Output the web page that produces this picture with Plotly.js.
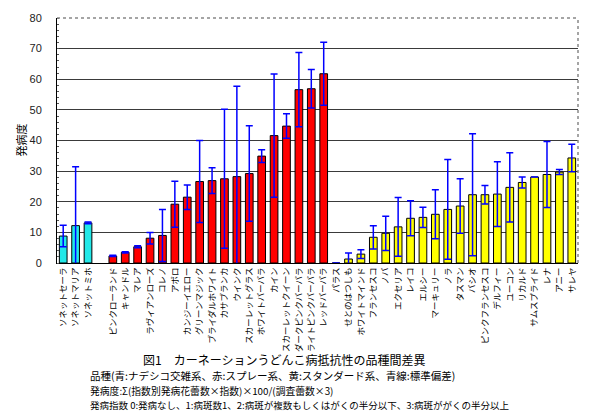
<!DOCTYPE html>
<html>
<head>
<meta charset="utf-8">
<script src="https://cdn.plot.ly/plotly-3.0.1.min.js"></script>
<style>html,body{margin:0;padding:0;background:#fff}#chart{width:600px;height:420px}</style>
</head>
<body>
<div id="chart"></div>
<script>
// ナデシコ交雑系 (cyan)
const nadeshikoNames = ['ソネットセーラ', 'ソネットマリア', 'ソネットミホ'];
const nadeshikoVals  = [8.8, 12.2, 13.1];
const nadeshikoErr   = [3.5, 19.2, 0.3];

// 空き枠
const gapName = [' '];

// スプレー系 (red)
const sprayNames = ['ピンクローランド', 'キャンドル', 'マレア', 'ラヴィアンローズ', 'コレノ', 'アポロ',
  'カンジーイエロー', 'グリーンマジック', 'ブライダルホワイト', 'カサブランカ', 'ウインク',
  'スカーレットグラス', 'ホワイトバーバラ', 'カイン', 'スカーレットクイーン', 'ダークピンクバーバラ',
  'ライトピンクバーバラ', 'レッドバーバラ'];
const sprayVals = [2.3, 3.5, 5.3, 8.1, 9.0, 19.2, 21.5, 26.6, 26.9, 27.5, 28.2, 29.2, 34.9, 41.6, 44.7, 56.6, 56.9, 61.8];
const sprayErr  = [0.2, 0.2, 0.3, 1.9, 8.5, 7.5, 4.0, 13.4, 4.2, 22.7, 29.5, 15.6, 2.1, 20.1, 4.0, 12.1, 6.3, 10.3];

// スタンダード系 (yellow)
const standardNames = ['パラス', 'せとのはつしも', 'ホワイトマインド', 'フランセスコ', 'ノバ', 'エクセリア',
  'レイコ', 'エルシー', 'マーキュリー', 'ノラ', 'タスマン', 'バシオ', 'ピンクフランセスコ', 'デルフィー',
  'ユーコン', 'リカルド', 'サムスプライド', 'レナ', 'アニー', 'サレヤ'];
const standardVals = [0, 1.3, 2.9, 8.4, 9.7, 11.8, 14.6, 14.9, 15.9, 17.5, 18.6, 22.3, 22.3, 22.5, 24.7, 26.3, 28.1, 28.9, 29.7, 34.3];
const standardErr  = [0, 2.0, 1.4, 3.8, 5.6, 9.6, 5.7, 3.3, 8.0, 16.3, 8.9, 19.9, 3.0, 10.6, 11.3, 1.8, 0, 10.8, 0.8, 4.5];

const yTickVals = [0, 10, 20, 30, 40, 50, 60, 70, 80];

const captionTitle = '図1　カーネーションうどんこ病抵抗性の品種間差異';
const captionLines = [
  '品種(青:ナデシコ交雑系、赤:スプレー系、黄:スタンダード系、青線:標準偏差)',
  '発病度:Σ(指数別発病花蕾数×指数)×100/(調査蕾数×3)',
  '発病指数 0:発病なし、1:病斑数1、2:病斑が複数もしくはがくの半分以下、3:病斑ががくの半分以上'
];

const jp = '"Noto Sans CJK JP", "Noto Sans", sans-serif';
const errStyle = {type: 'data', visible: true, color: '#0000ff', thickness: 1.5, width: 3.5};

function barTrace(names, vals, errs, color, label) {
  return {
    type: 'bar', name: label, x: names, y: vals,
    marker: {color: color, line: {color: '#000', width: 1}},
    error_y: Object.assign({array: errs}, errStyle),
    hoverinfo: 'x+y'
  };
}

const traces = [
  barTrace(nadeshikoNames, nadeshikoVals, nadeshikoErr, '#22e8e8', 'ナデシコ交雑系'),
  {type: 'bar', x: gapName, y: [null], showlegend: false, hoverinfo: 'skip'},
  barTrace(sprayNames, sprayVals, sprayErr, '#ff0000', 'スプレー系'),
  barTrace(standardNames, standardVals, standardErr, '#ffff00', 'スタンダード系')
];

function captionLine(text, y, size) {
  return {xref: 'paper', yref: 'paper', x: 0.0614, y: y, xanchor: 'left', yanchor: 'middle',
    align: 'left', showarrow: false, borderpad: 0, text: text,
    font: {family: jp, size: size, color: '#000'}};
}

const layout = {
  width: 600, height: 420,
  margin: {l: 57, r: 22, t: 18, b: 157},
  paper_bgcolor: '#fff', plot_bgcolor: '#fff',
  showlegend: false,
  barmode: 'overlay',
  bargap: 0.38,
  font: {family: jp, color: '#000'},
  xaxis: {
    type: 'category',
    categoryorder: 'array',
    categoryarray: [].concat(nadeshikoNames, gapName, sprayNames, standardNames),
    tickangle: -90,
    tickfont: {family: jp, size: 8.5, color: '#000'},
    showline: true, linecolor: '#000', linewidth: 1,
    mirror: false, ticks: '', showgrid: false, zeroline: false,
    fixedrange: true
  },
  yaxis: {
    range: [0, 80],
    tickvals: yTickVals,
    tickfont: {family: 'Liberation Sans, Arial, sans-serif', size: 11, color: '#222'},
    ticks: '', ticklabelstandoff: 12,
    showline: true, linecolor: '#000', linewidth: 1,
    showgrid: true, gridcolor: '#3a3a3a', gridwidth: 1,
    zeroline: false,
    minor: {dtick: 2, ticks: 'inside', ticklen: 2, tickcolor: '#555', showgrid: false},
    fixedrange: true
  },
  shapes: [
    {type: 'line', xref: 'paper', yref: 'paper', x0: 1, x1: 1, y0: 0, y1: 1,
     line: {color: '#888', width: 1.5, dash: 'dot'}},
    {type: 'line', xref: 'paper', yref: 'paper', x0: 0, x1: 1, y0: 1, y1: 1,
     line: {color: '#888', width: 1.5, dash: 'dot'}}
  ],
  annotations: [
    {xref: 'paper', yref: 'paper', x: -0.071, y: 0.5, xanchor: 'center', yanchor: 'middle',
     showarrow: false, textangle: -90, text: '発病度',
     font: {family: jp, size: 11, color: '#000'}},
    {xref: 'paper', yref: 'paper', x: 0.436, y: -0.3939, xanchor: 'center', yanchor: 'middle',
     showarrow: false, borderpad: 0, text: captionTitle,
     font: {family: jp, size: 12, color: '#000'}},
    captionLine(captionLines[0], -0.4612, 10.5),
    captionLine(captionLines[1], -0.5224, 9.8),
    captionLine(captionLines[2], -0.5804, 9.5)
  ]
};

Plotly.newPlot('chart', traces, layout, {displayModeBar: false, staticPlot: true});
</script>
</body>
</html>
